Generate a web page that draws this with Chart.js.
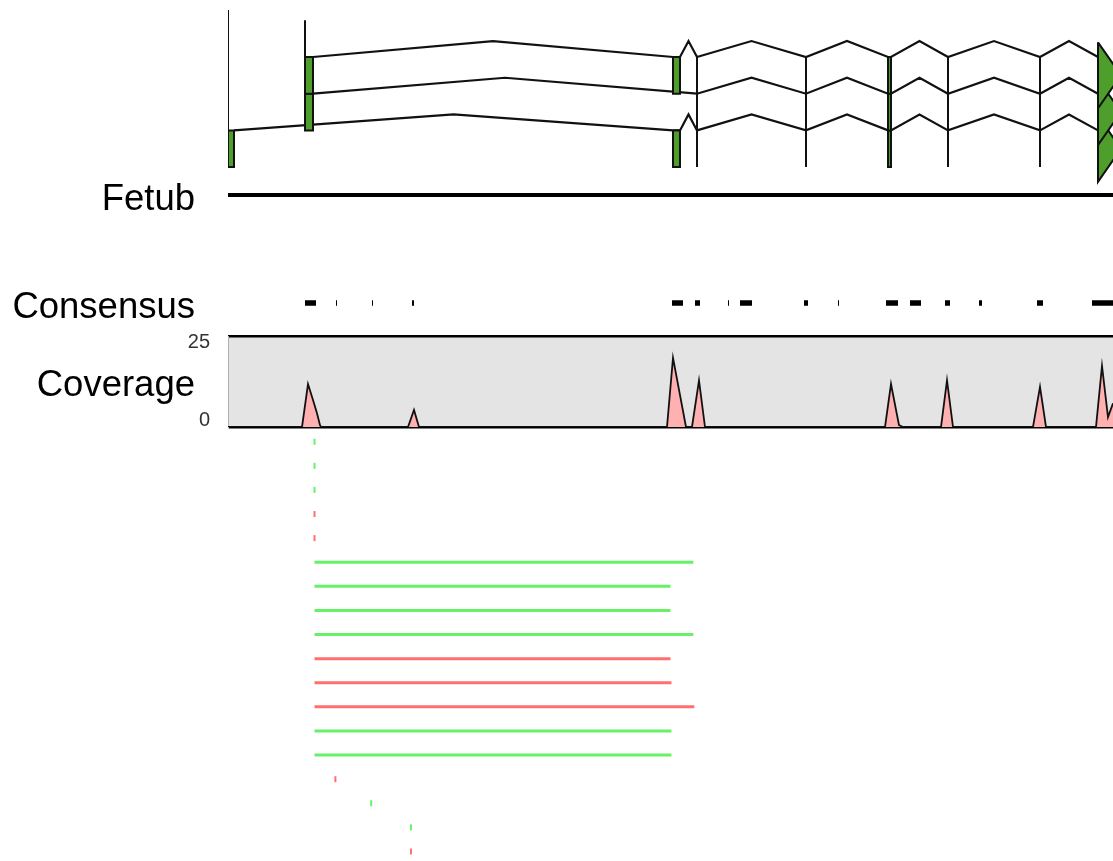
<!DOCTYPE html>
<html>
<head>
<meta charset="utf-8">
<script src="https://cdn.jsdelivr.net/npm/chart.js@4.4.1/dist/chart.umd.min.js"></script>
<style>
  html, body { margin:0; padding:0; background:#fff; }
  body { width:1113px; height:861px; overflow:hidden; position:relative; font-family:'Liberation Sans', Arial, Helvetica, sans-serif; }
  canvas { position:absolute; left:0; }
  .lbl { position:absolute; right:918px; font-size:36.5px; line-height:36px; color:#000; white-space:nowrap; }
</style>
</head>
<body>
<canvas id="tx" width="1113" height="175" style="top:10px"></canvas>
<canvas id="gene" width="1113" height="30" style="top:180px"></canvas>
<canvas id="cons" width="1113" height="26" style="top:290px"></canvas>
<canvas id="cov" width="1113" height="111" style="top:326px"></canvas>
<canvas id="reads" width="1113" height="436" style="top:425px"></canvas>
<div class="lbl" id="lbl0" style="top:180px"></div>
<div class="lbl" id="lbl1" style="top:288px"></div>
<div class="lbl" id="lbl2" style="top:366px"></div>
<script>
// ---------------- data (genomic position units) ----------------
const VIEW_START = 228;
const VIEW_END = 1113;

const TRACK_LABELS = ['Fetub', 'Consensus', 'Coverage'];

// transcript models: exons [start, end]; the last exon is drawn as a strand arrow
const TX1_EXONS = [[305,313],[673,680],[697,697],[806,806],[888,891],[948,948],[1040,1040],[1098,1121]];
const TX2_EXONS = [[305,313],[697,697],[806,806],[888,891],[948,948],[1040,1040],[1098,1121]];
const TX3_EXONS = [[228,234],[673,680],[697,697],[806,806],[888,891],[948,948],[1040,1040],[1098,1121]];
// exons of transcripts lying above the visible window (only their lower part shows)
const CLIPPED_EXON_POS = [228, 305];
const CLIPPED_EXON_ROWS = [[-2, 2], [-1, 0]];

// gene span
const GENE_START = 228;
const GENE_END = 1150;

// consensus blocks
const CONS_START = [305, 336, 372, 412, 672, 695, 728, 740, 804, 838, 886, 910, 945, 979, 1037, 1092];
const CONS_END   = [316, 337, 373, 414, 683, 700, 729, 752, 808, 839, 898, 921, 950, 982, 1043, 1150];

// coverage depth
const COV_POS   = [228, 302, 308, 313, 317, 320, 321, 408, 414, 419, 667, 673, 686, 692, 699, 705, 885, 891, 899, 903, 941, 947, 953, 1033, 1040, 1046, 1096, 1102, 1108, 1113, 1118];
const COV_DEPTH = [0,   0,   11.8, 7.4, 3.8, 0.5, 0,   0,   4.7, 0,   0,   19,  0,   0,   12.8, 0,  0,   11.8, 0.5, 0,   0,   12.8, 0,   0,    11,   0,    0,    16.8, 2.7,  6.5,  8];
const COV_TICKS = [0, 25];

// reads (one per row)
const READ_START  = [315, 315, 315, 315, 315, 315, 315, 315, 315, 315, 315, 315, 315, 315, 336, 372, 412, 412];
const READ_END    = [315, 315, 315, 315, 315, 696, 673, 673, 696, 673, 674, 697, 674, 674, 336, 372, 412, 412];
const READ_STRAND = ['+', '+', '+', '-', '-', '+', '+', '+', '+', '-', '-', '-', '+', '+', '-', '+', '+', '-'];

// ---------------- styling ----------------
const FONT = "'Liberation Sans', Arial, Helvetica, sans-serif";
const LEFT = 228;
const EXON_GREEN = '#4d9e2b';
const INTRON_RISE = 0.435;
const FWD = '#66f266';
const REV = '#ff6f6f';

TRACK_LABELS.forEach((t, i) => { document.getElementById('lbl' + i).textContent = t; });

function baseOptions(yScales) {
  return {
    responsive: false, animation: false, devicePixelRatio: 1, events: [],
    layout: { padding: { left: LEFT, right: 0, top: 0, bottom: 0 } },
    plugins: { legend: { display: false }, tooltip: { enabled: false }, title: { display: false } },
    elements: { point: { radius: 0, hoverRadius: 0 }, line: { tension: 0 } },
    scales: Object.assign({ x: { type: 'linear', min: VIEW_START, max: VIEW_END, display: false } }, yScales)
  };
}

// ---------------- transcripts ----------------
const txDatasets = [];
[TX1_EXONS, TX2_EXONS, TX3_EXONS].forEach((exons, r) => {
  const pts = [];
  for (let i = 0; i < exons.length - 1; i++) {
    const a = exons[i][1], b = exons[i + 1][0];
    pts.push({ x: a, y: r }, { x: (a + b) / 2, y: r - INTRON_RISE }, { x: b, y: r });
  }
  txDatasets.push({ data: pts, borderColor: '#111', borderWidth: 2.2, fill: false, order: 3 });
  exons.forEach((e, i) => {
    const last = i === exons.length - 1;
    const poly = last
      ? [{ x: e[0], y: r - 0.4 }, { x: e[1], y: r + 0.5 }, { x: e[0], y: r + 1.4 }, { x: e[0], y: r - 0.4 }]
      : [{ x: e[0], y: r }, { x: e[1], y: r }, { x: e[1], y: r + 1 }, { x: e[0], y: r + 1 }, { x: e[0], y: r }];
    txDatasets.push({ data: poly, borderColor: '#111', borderWidth: 2, backgroundColor: EXON_GREEN, fill: 'shape', order: 1 });
  });
});
CLIPPED_EXON_POS.forEach((p, i) => {
  txDatasets.push({ data: [{ x: p, y: CLIPPED_EXON_ROWS[i][0] }, { x: p, y: CLIPPED_EXON_ROWS[i][1] }], borderColor: '#111', borderWidth: 2, fill: false, order: 2 });
});
new Chart(document.getElementById('tx'), {
  type: 'line',
  data: { datasets: txDatasets },
  options: baseOptions({ y: { type: 'linear', reverse: true, min: -1.281, max: 3.488, display: false } })
});

// ---------------- gene ----------------
new Chart(document.getElementById('gene'), {
  type: 'line',
  data: { datasets: [{ data: [{ x: GENE_START, y: 0 }, { x: GENE_END, y: 0 }], borderColor: '#000', borderWidth: 4, borderCapStyle: 'butt', fill: false }] },
  options: baseOptions({ y: { type: 'linear', min: -1, max: 1, display: false } })
});

// ---------------- consensus ----------------
const consPts = [];
CONS_START.forEach((s, i) => {
  consPts.push({ x: s, y: 0 }, { x: CONS_END[i], y: 0 }, { x: CONS_END[i], y: null });
});
new Chart(document.getElementById('cons'), {
  type: 'line',
  data: { datasets: [{ data: consPts, borderColor: '#000', borderWidth: 5.5, borderCapStyle: 'butt', fill: false, spanGaps: false }] },
  options: baseOptions({ y: { type: 'linear', min: -1, max: 1, display: false } })
});

// ---------------- coverage ----------------
const bgPlugin = {
  id: 'panelBg',
  beforeDraw(chart) {
    const a = chart.chartArea, ctx = chart.ctx;
    ctx.save(); ctx.fillStyle = '#e4e4e4'; ctx.fillRect(a.left, a.top, a.right - a.left, a.bottom - a.top); ctx.restore();
  }
};
// the two value axes take no width; give their labels room to the left after layout
const labelRoom = {
  id: 'labelRoom',
  afterLayout(chart) { ['y', 'y25'].forEach(id => { chart.scales[id].left = 0; }); }
};
function covAxis(tickVal, align, offset, border) {
  return {
    type: 'linear', axis: 'y', position: 'left', min: COV_TICKS[0], max: COV_TICKS[1],
    afterBuildTicks: s => { s.ticks = [{ value: tickVal }]; },
    afterFit: s => { s.width = 0; s.paddingTop = 0; s.paddingBottom = 0; s.paddingLeft = 0; s.paddingRight = 0; },
    grid: { display: true, color: '#000', lineWidth: 2.5, drawTicks: false },
    border: border ? { display: true, color: '#b0b0b0', width: 1 } : { display: false },
    ticks: { align: align, padding: 18, labelOffset: offset, color: '#333', font: { size: 20, family: FONT } }
  };
}
const covOpts = baseOptions({
  y: covAxis(COV_TICKS[0], 'end', 3, true),
  y25: covAxis(COV_TICKS[1], 'start', -4, false)
});
covOpts.layout.padding.top = 10;
covOpts.layout.padding.bottom = 10;
new Chart(document.getElementById('cov'), {
  type: 'line',
  data: { datasets: [{ data: COV_POS.map((p, i) => ({ x: p, y: COV_DEPTH[i] })), yAxisID: 'y', borderColor: '#111', borderWidth: 1.8, backgroundColor: '#ffb0b0', fill: 'origin' }] },
  options: covOpts,
  plugins: [bgPlugin, labelRoom]
});

// ---------------- reads ----------------
const fwdLines = [], revLines = [], fwdDots = [], revDots = [];
READ_START.forEach((s, row) => {
  const e = READ_END[row], fwd = READ_STRAND[row] === '+';
  if (e - s < 2) {
    (fwd ? fwdDots : revDots).push({ x: s, y: row });
  } else {
    (fwd ? fwdLines : revLines).push({ x: s, y: row }, { x: e, y: row }, { x: e, y: null });
  }
});
const dot = (data, c) => ({ data, showLine: false, pointStyle: 'line', rotation: 90, pointRadius: 3, pointBorderWidth: 2, pointBorderColor: c, borderColor: c, pointBackgroundColor: c });
new Chart(document.getElementById('reads'), {
  type: 'line',
  data: { datasets: [
    { data: fwdLines, borderColor: FWD, borderWidth: 3, borderCapStyle: 'butt', fill: false, spanGaps: false },
    { data: revLines, borderColor: REV, borderWidth: 3, borderCapStyle: 'butt', fill: false, spanGaps: false },
    dot(fwdDots, FWD), dot(revDots, REV)
  ] },
  options: baseOptions({ y: { type: 'linear', reverse: true, min: -0.486, max: 17.187, display: false } })
});
</script>
</body>
</html>
